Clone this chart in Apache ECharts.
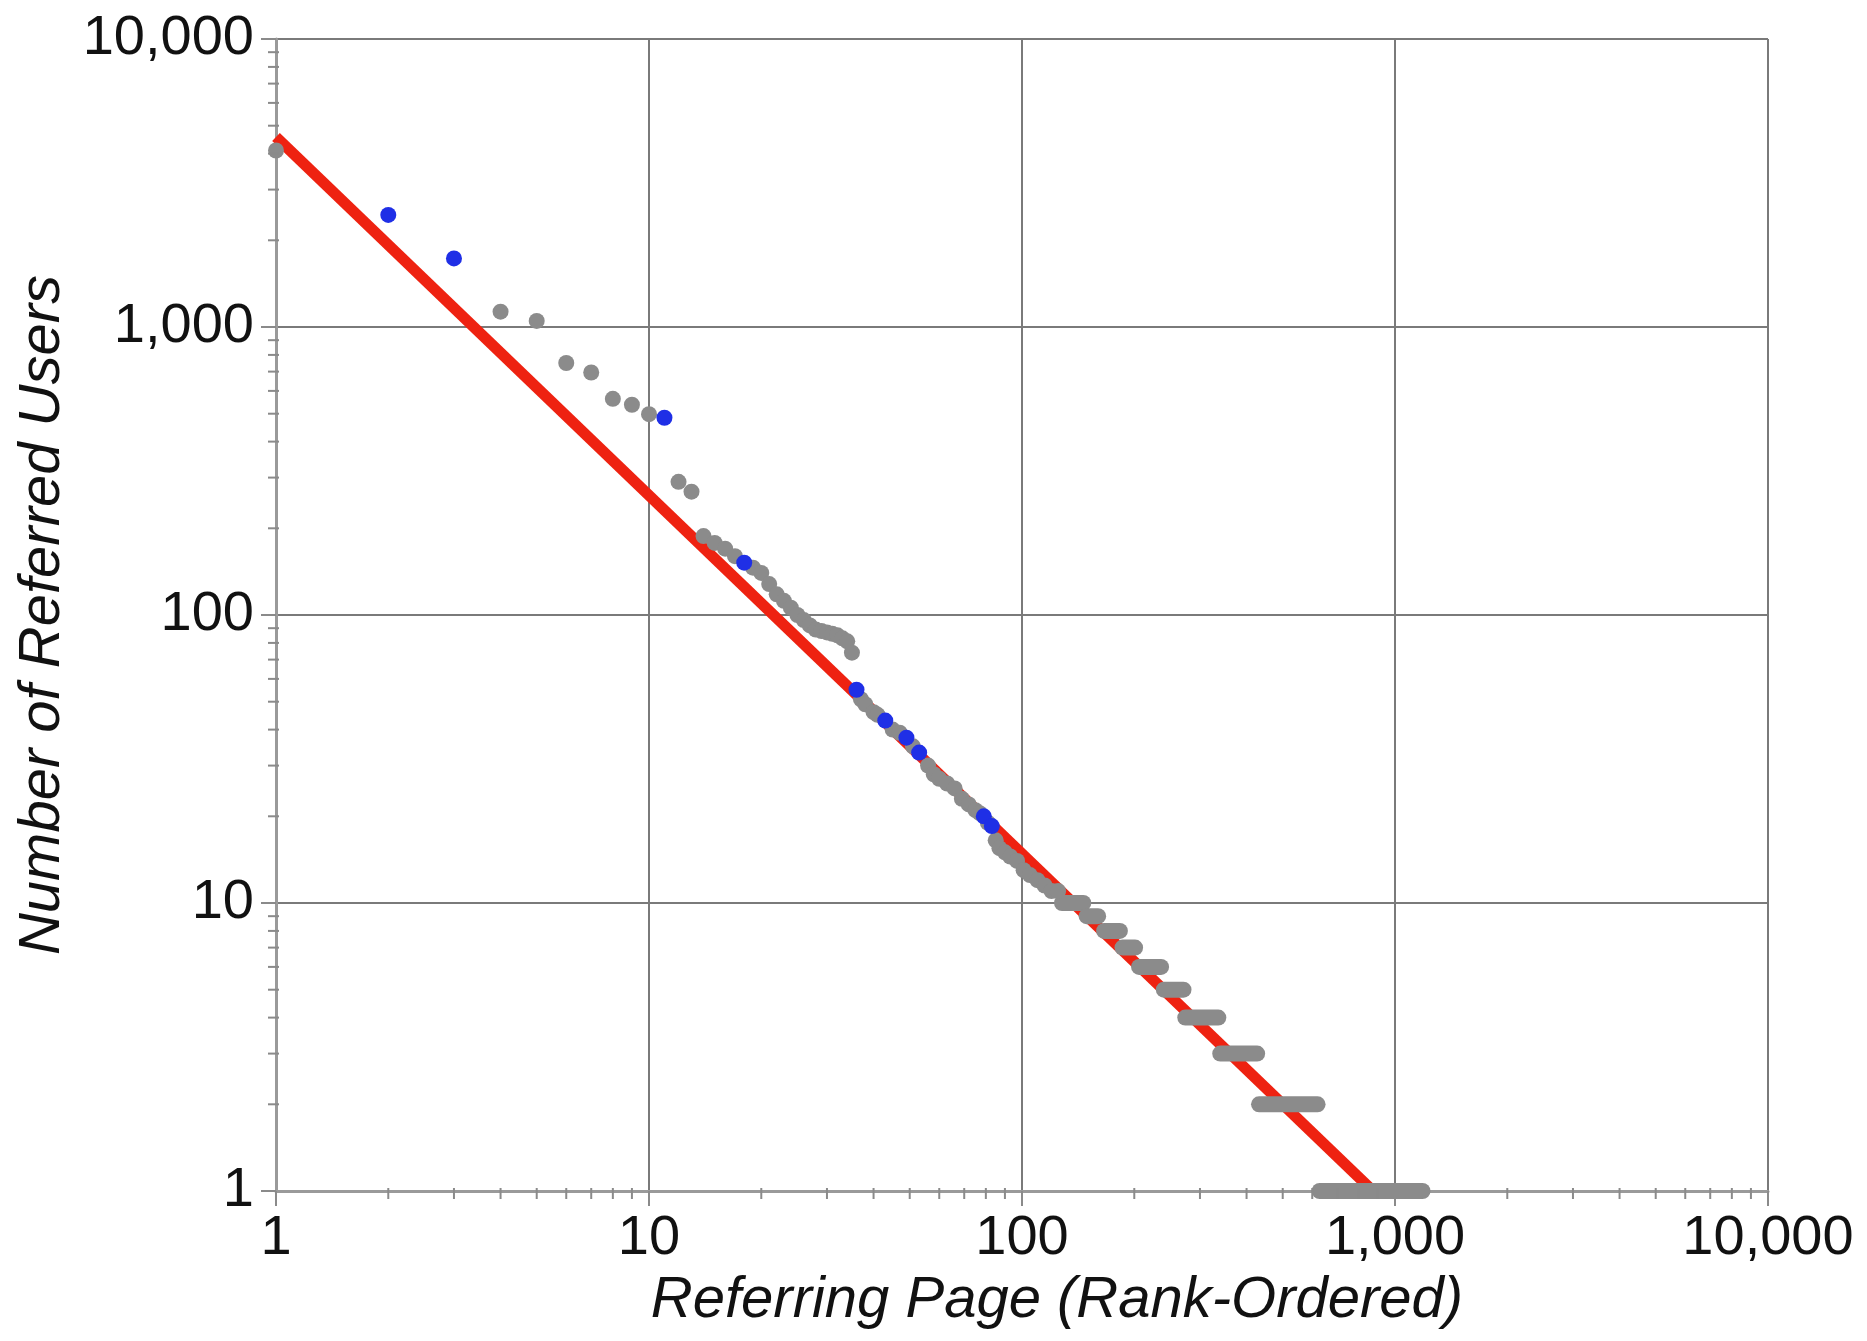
<!DOCTYPE html>
<html>
<head>
<meta charset="utf-8">
<script src="https://cdn.jsdelivr.net/npm/echarts@6/dist/echarts.min.js"></script>
<style>
  html, body { margin: 0; padding: 0; background: #fff; }
  #chart { width: 1867px; height: 1341px; }
</style>
</head>
<body>
<div id="chart"></div>
<script>
// gray points: top ranks (read one by one)
const topRanks = [1, 4, 5, 6, 7, 8, 9, 10, 12, 13, 14, 15, 16, 17, 19, 20, 21, 22, 23, 24, 25, 26, 27, 28, 29, 30, 31, 32, 33, 34, 35];
const topValues = [4100, 1130, 1050, 750, 695, 563, 537, 498, 290, 268, 188, 178, 170, 160, 146, 140, 128, 118, 112, 106, 100, 96, 92, 89, 88, 87, 86, 85, 83, 81, 74];

// gray points: dense band along the fit
const bandRanks = [37, 38, 40, 41, 45, 47, 51, 56, 58, 60, 63, 66, 69, 72, 75, 77, 81, 85, 87, 90, 93, 97, 101, 105, 110, 115, 120, 125];
const bandValues = [51, 49, 46, 45, 40, 39, 35, 30, 28, 27, 26, 25, 23, 22, 21, 20.5, 19, 16.5, 15.5, 15, 14.5, 14, 13, 12.5, 12, 11.5, 11, 11];

// gray plateaus in the tail (same value over a run of ranks)
const plateauValues = [10, 9, 8, 7, 6, 5, 4, 3, 2, 1];
const plateauStart = [128, 149, 166, 186, 206, 240, 274, 340, 432, 628];
const plateauEnd = [146, 160, 183, 201, 236, 271, 336, 427, 620, 1185];

// blue highlighted points
const blueRanks = [2, 3, 11, 18, 36, 43, 49, 53, 79, 83];
const blueValues = [2450, 1730, 484, 152, 55, 43, 37.5, 33.3, 20, 18.5];

// red fitted line (end points)
const fitRanks = [1, 873];
const fitValues = [4570, 1];

// minor tick positions
const minorTicks = [2, 3, 4, 5, 6, 7, 8, 9,
  20, 30, 40, 50, 60, 70, 80, 90,
  200, 300, 400, 500, 600, 700, 800, 900,
  2000, 3000, 4000, 5000, 6000, 7000, 8000, 9000];

const GRAY = "#8b8b8b";
const BLUE = "#1f2fe6";
const RED = "#ee2211";
const FONT = "Liberation Sans";

function fmt(v) {
  return String(Math.round(v)).replace(/\B(?=(\d{3})+(?!\d))/g, ",");
}

function zip(xs, ys) {
  return xs.map((x, i) => [x, ys[i]]);
}

const grayData = zip(topRanks, topValues).concat(zip(bandRanks, bandValues));
const plateauData = plateauValues.map((v, i) => [plateauStart[i], v, plateauEnd[i]]);

function renderPlateau(params, api) {
  const a = api.coord([api.value(0), api.value(1)]);
  const b = api.coord([api.value(2), api.value(1)]);
  return {
    type: "line",
    shape: { x1: a[0], y1: a[1], x2: b[0], y2: b[1] },
    style: { stroke: GRAY, lineWidth: 16, lineCap: "round" },
  };
}

function renderMinorTick(isX) {
  return function (params, api) {
    const p = api.coord([api.value(0), api.value(1)]);
    const shape = isX
      ? { x1: p[0], y1: p[1] - 3, x2: p[0], y2: p[1] + 8 }
      : { x1: p[0] - 8, y1: p[1], x2: p[0] + 3, y2: p[1] };
    return { type: "line", shape: shape, style: { stroke: "#8a8a8a", lineWidth: 2 } };
  };
}

function logAxis(extra) {
  return Object.assign({
    type: "log",
    logBase: 10,
    min: 1,
    max: 10000,
    nameLocation: "middle",
    axisLine: { show: true, onZero: false, lineStyle: { color: "#9a9a9a", width: 3 } },
    axisTick: { show: true, length: 15, lineStyle: { color: "#8a8a8a", width: 2 } },
    splitLine: { show: true, lineStyle: { color: "#7a7a7a", width: 2 } },
  }, extra);
}

const option = {
  animation: false,
  backgroundColor: "#fff",
  grid: { left: 276, right: 99, top: 39, bottom: 150 },
  xAxis: logAxis({
    name: "Referring Page (Rank-Ordered)",
    nameGap: 80,
    nameTextStyle: { fontFamily: FONT, fontStyle: "italic", fontSize: 58, color: "#111", padding: [0, 0, 0, 70] },
    axisLabel: { margin: 20, fontFamily: FONT, fontSize: 56, color: "#111", formatter: fmt },
  }),
  yAxis: logAxis({
    name: "Number of Referred Users",
    nameGap: 195,
    nameTextStyle: { fontFamily: FONT, fontStyle: "italic", fontSize: 58, color: "#111" },
    axisLabel: { margin: 22, fontFamily: FONT, fontSize: 56, color: "#111", formatter: fmt },
  }),
  series: [
    {
      name: "fit",
      type: "line",
      data: zip(fitRanks, fitValues),
      showSymbol: false,
      lineStyle: { color: RED, width: 11 },
      z: 1,
    },
    {
      name: "plateaus",
      type: "custom",
      data: plateauData,
      encode: { x: 0, y: 1 },
      renderItem: renderPlateau,
      z: 2,
    },
    {
      name: "gray",
      type: "scatter",
      data: grayData,
      symbolSize: 16,
      itemStyle: { color: GRAY, opacity: 1 },
      z: 2,
    },
    {
      name: "blue",
      type: "scatter",
      data: zip(blueRanks, blueValues),
      symbolSize: 16,
      itemStyle: { color: BLUE, opacity: 1 },
      z: 3,
    },
    {
      name: "xMinor",
      type: "custom",
      data: minorTicks.map((v) => [v, 1]),
      renderItem: renderMinorTick(true),
      silent: true,
      z: 4,
    },
    {
      name: "yMinor",
      type: "custom",
      data: minorTicks.map((v) => [1, v]),
      renderItem: renderMinorTick(false),
      silent: true,
      z: 4,
    },
  ],
};

const chart = echarts.init(document.getElementById("chart"));
chart.setOption(option);
</script>
</body>
</html>
